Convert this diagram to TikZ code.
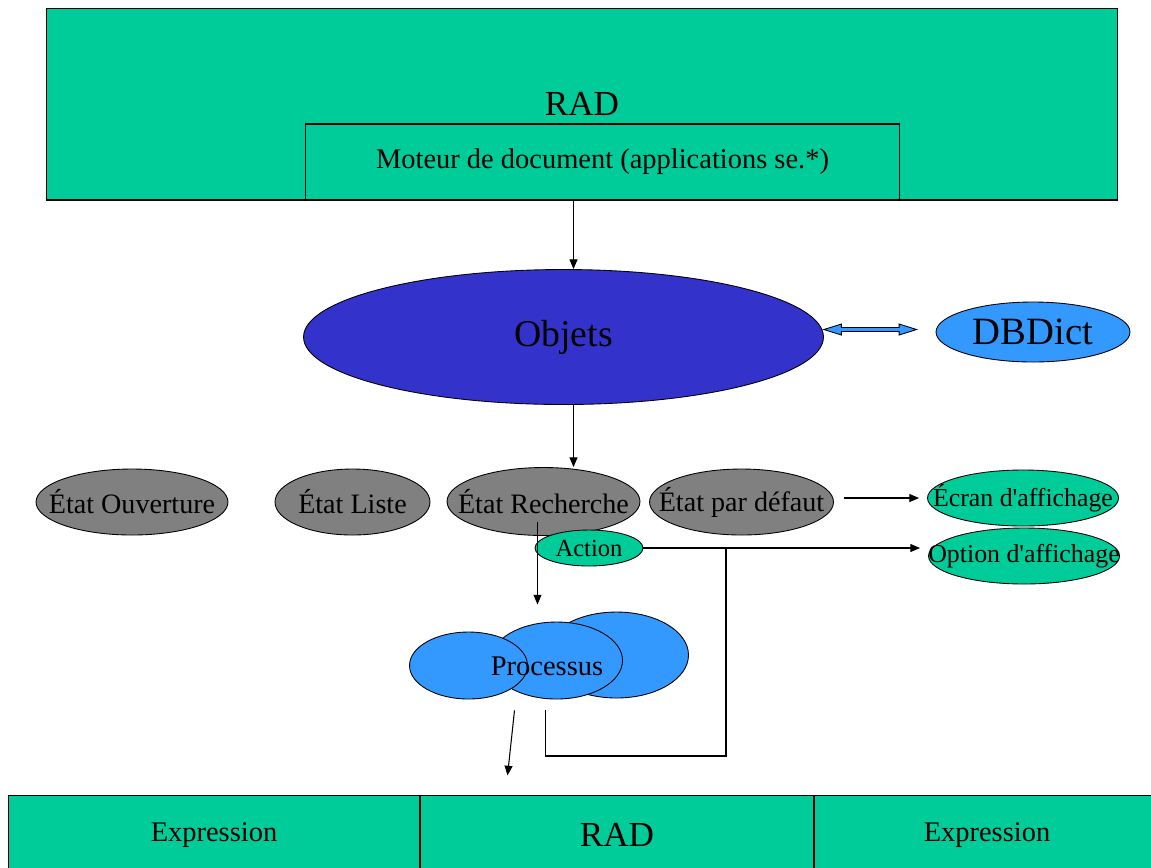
\documentclass[tikz,border=0pt]{standalone}
\usepackage{fontspec}
\setmainfont{Liberation Serif}
\usetikzlibrary{arrows.meta,positioning,calc,shapes.geometric}
\definecolor{radgreen}{RGB}{0,204,153}
\definecolor{objblue}{RGB}{51,51,204}
\definecolor{dictblue}{RGB}{51,153,255}
\definecolor{stategray}{RGB}{128,128,128}
% texte sans largeur: la taille de l'ellipse vient de minimum width
\newcommand{\centretexte}[1]{\makebox[0pt]{#1}}

\begin{document}
\begin{tikzpicture}[
  x=0.02cm, y=-0.02cm,
  >=Latex,
  flow/.style={-{Triangle[length=5.5pt,width=4.5pt]},line width=0.6pt},
  link/.style={line width=0.6pt},
  bar/.style={draw,fill=radgreen,line width=0.6pt,inner sep=0pt},
  blob/.style={ellipse,draw,line width=0.5pt,inner sep=0pt},
  state/.style={blob,fill=stategray,minimum height=1.32cm,
    font=\fontsize{16}{19}\selectfont},
  screen/.style={blob,fill=radgreen,minimum width=3.82cm,minimum height=1.12cm,
    font=\fontsize{14.7}{17}\selectfont},
  bodytext/.style={font=\fontsize{16.2}{19}\selectfont},
  bigtext/.style={font=\fontsize{20}{24}\selectfont}
]
\useasboundingbox (0,0) rectangle (1151,867);
\clip (0,0) rectangle (1151,867);

% RAD en haut
\node[bar,bigtext,minimum width=21.44cm,minimum height=3.84cm] (rad) at (582,104) {RAD};
\node[bar,bodytext,minimum width=11.9cm,minimum height=1.52cm] (moteur) at (602.5,162)
  {Moteur de document (applications se.*)};

\node[blob,fill=objblue,minimum width=10.4cm,minimum height=2.7cm,
  font=\fontsize{21.5}{25}\selectfont] (objets) at (563.5,337) {\centretexte{Objets}};
\node[blob,fill=dictblue,minimum width=3.88cm,minimum height=1.2cm,
  font=\fontsize{22}{26}\selectfont] (dbdict) at (1033,332) {\centretexte{DBDict}};

% etats
\node[state,minimum width=3.84cm] (ouverture) at (132,502) {\centretexte{État Ouverture}};
\node[state,minimum width=3.1cm] (liste) at (352.5,502) {\centretexte{État Liste}};
\node[state,minimum width=3.86cm,minimum height=1.36cm] (recherche) at (543.5,501.5)
  {\centretexte{État Recherche}};
\node[state,minimum width=3.68cm] (defaut) at (741.5,502) {\centretexte{État par défaut}};
\node[screen] (ecran) at (1023,498) {\centretexte{Écran d\textquotesingle affichage}};
\node[screen] (option) at (1024,556) {\centretexte{Option d\textquotesingle affichage}};
\node[blob,fill=radgreen,minimum width=2.16cm,minimum height=0.72cm,
  font=\fontsize{14}{17}\selectfont] (action) at (589,548) {\centretexte{Action}};

% processus
\node[blob,fill=dictblue,minimum width=2.88cm,minimum height=1.72cm] (pright) at (616.5,655) {};
\node[blob,fill=dictblue,minimum width=2.64cm,minimum height=1.54cm] (pmid) at (556.5,660.5) {};
\node[blob,fill=dictblue,minimum width=2.36cm,minimum height=1.34cm] (pleft) at (468.5,665.5) {};
\node[bodytext] (processus) at (547,666) {Processus};

% RAD en bas
\node[bar,bodytext,minimum width=8.24cm,minimum height=1.6cm] (exprgauche) at (214,835) {Expression};
\node[bar,bigtext,minimum width=7.88cm,minimum height=1.6cm] (radbas) at (617,835) {RAD};
\node[bar,bodytext,minimum width=6.92cm,minimum height=1.6cm] (exprdroite) at (987,835) {Expression};

% liens
\coordinate (axe) at ([xshift=0.2cm]objets.north);
\coordinate (axebas) at ([xshift=0.2cm]objets.south);
\draw[flow] (moteur.south -| axe) -- (axe);
\draw[flow] (axebas) -- (axebas |- recherche.north);

\coordinate (dA) at ([yshift=0.15cm]objets.east);
\coordinate (dB) at ($(dA -| dbdict.west)+(-19,0)$);
\draw[fill=dictblue,line width=0.5pt] (dA) -- ++(0.35cm,0.11cm) -- ++(0,-0.07cm)
  -- ($(dB)+(-0.35cm,0.04cm)$) -- ++(0,0.07cm) -- (dB) -- ++(-0.35cm,-0.11cm)
  -- ++(0,0.07cm) -- ($(dA)+(0.35cm,-0.04cm)$) -- ++(0,-0.07cm) -- cycle;

\draw[flow,shorten <=0.2cm,shorten >=0.16cm] (defaut.east |- ecran.west) -- (ecran.west);
\draw[flow,shorten >=0.16cm] (action.east) -- (action.east -| option.west);

\coordinate (fbtop) at ($(action.east)!0.29!(action.east -| option.west)$);
\coordinate (fbend) at ([shift={(-11,11)}]pmid.south);
\draw[link] (fbtop) -- ++(0,208) -| (fbend);

\draw[flow] ([shift={(-6,20)}]recherche.center) -- ++(0,83);
\draw[flow] ([shift={(-42,11)}]pmid.south) -- ++(-7,65);
\end{tikzpicture}
\end{document}
